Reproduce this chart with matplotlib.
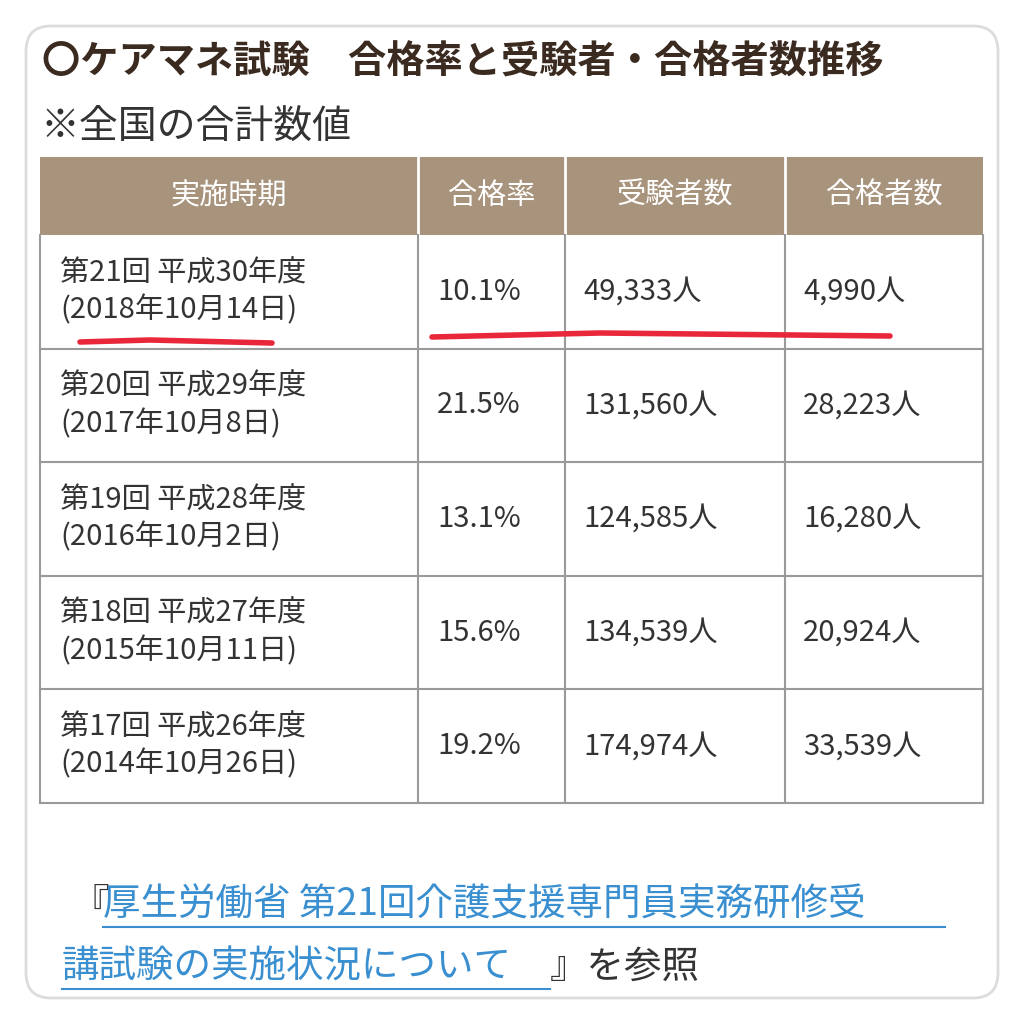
import matplotlib
matplotlib.use("Agg")
import matplotlib.pyplot as plt
from matplotlib.patches import FancyBboxPatch, Rectangle

plt.rcParams["font.family"] = "Noto Sans CJK JP"

title = "〇ケアマネ試験　合格率と受験者・合格者数推移"
subtitle = "※全国の合計数値"
headers = ["実施時期", "合格率", "受験者数", "合格者数"]
periods = ["第21回 平成30年度\n(2018年10月14日)",
           "第20回 平成29年度\n(2017年10月8日)",
           "第19回 平成28年度\n(2016年10月2日)",
           "第18回 平成27年度\n(2015年10月11日)",
           "第17回 平成26年度\n(2014年10月26日)"]
rates = ["10.1%", "21.5%", "13.1%", "15.6%", "19.2%"]
examinees = ["49,333人", "131,560人", "124,585人", "134,539人", "174,974人"]
passers = ["4,990人", "28,223人", "16,280人", "20,924人", "33,539人"]

W, H = 1023, 1024
fig = plt.figure(figsize=(W / 100, H / 100), dpi=100)
ax = fig.add_axes([0, 0, 1, 1])
ax.set_xlim(0, W)
ax.set_ylim(H, 0)
ax.axis("off")

ax.add_patch(FancyBboxPatch((26, 26), 972, 972, boxstyle="round,pad=0,rounding_size=25",
                            fc="white", ec="#dcdcdc", lw=2))

ax.text(42, 62, title, fontsize=27.5, fontweight="bold", color="#3a2a20", va="center")
ax.text(40, 127, subtitle, fontsize=28, color="#333333", va="center")

cols = [40, 418, 565, 785, 983]
header_top, header_bot = 157, 235
row_h = 113.6
brown = "#a8937c"
line_c = "#9a9a9a"
fs = 21

ax.add_patch(Rectangle((cols[0], header_top), cols[-1] - cols[0], header_bot - header_top,
                       fc=brown, ec="none"))
for i, h in enumerate(headers):
    ax.text((cols[i] + cols[i + 1]) / 2, (header_top + header_bot) / 2, h,
            fontsize=fs, color="white", ha="center", va="center")
for x in cols[1:-1]:
    ax.plot([x, x], [header_top, header_bot], color="white", lw=2)

n = len(periods)
bottom = header_bot + n * row_h
for i in range(n):
    y0 = header_bot + i * row_h
    yc = y0 + row_h / 2
    ax.text(60, yc, periods[i], fontsize=fs, color="#333333", va="center", linespacing=1.3)
    ax.text(437, yc, rates[i], fontsize=fs, color="#333333", va="center")
    ax.text(583, yc, examinees[i], fontsize=fs, color="#333333", va="center")
    ax.text(803, yc, passers[i], fontsize=fs, color="#333333", va="center")
    ax.plot([cols[0], cols[-1]], [y0 + row_h, y0 + row_h], color=line_c, lw=1.5)
for x in cols:
    ax.plot([x, x], [header_bot, bottom], color=line_c, lw=1.5)

# red hand-drawn underlines
ax.plot([80, 150, 272], [342, 340, 343], color="#e8283a", lw=4, solid_capstyle="round")
ax.plot([432, 600, 890], [337, 333, 336], color="#e8283a", lw=4, solid_capstyle="round")

blue = "#3a8fd0"
ax.text(72, 905, "『", fontsize=27, color="#333333", va="center")
ax.text(103, 905, "厚生労働省 第21回介護支援専門員実務研修受", fontsize=27, color=blue, va="center")
ax.plot([103, 945], [927, 927], color=blue, lw=1.5)
ax.text(62, 967, "講試験の実施状況について", fontsize=27, color=blue, va="center")
ax.plot([62, 550], [989, 989], color=blue, lw=1.5)
ax.text(550, 967, "』を参照", fontsize=27, color="#333333", va="center")

fig.savefig("out.png", dpi=100)
